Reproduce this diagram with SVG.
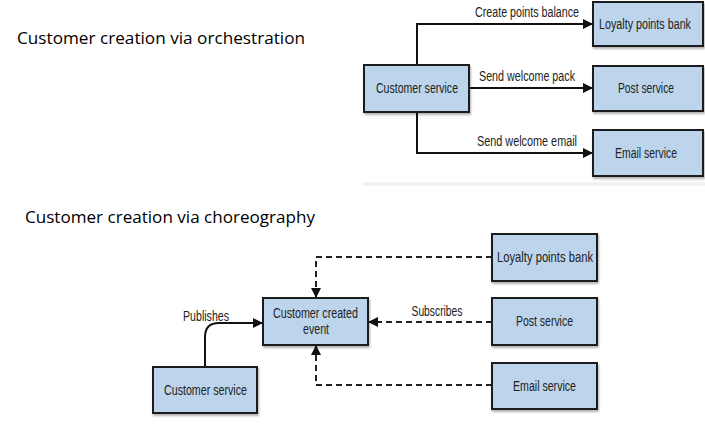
<svg xmlns="http://www.w3.org/2000/svg" width="705" height="431" viewBox="0 0 705 431">
<style>
.box{fill:#bcd5ec;stroke:#1a1a1a;stroke-width:2}
.t{font-family:"Liberation Sans","DejaVu Sans",sans-serif;font-size:14px;fill:#222;text-anchor:middle}
.h{font-family:"Open Sans","Liberation Sans",sans-serif;font-size:17px;fill:#000}
.ln{fill:none;stroke:#111;stroke-width:2}
.ds{fill:none;stroke:#222;stroke-width:2;stroke-dasharray:6,4}
</style>
<defs>
<marker id="ah" markerWidth="10" markerHeight="10" refX="9" refY="5" orient="auto" markerUnits="userSpaceOnUse">
<path d="M0,0 L10,5 L0,10 Z" fill="#111"/>
</marker>
<filter id="sh" x="-10%" y="-10%" width="130%" height="140%">
<feDropShadow dx="1" dy="2" stdDeviation="1.2" flood-color="#000" flood-opacity="0.3"/>
</filter>
</defs>
<rect width="705" height="431" fill="#fff"/>
<text class="h" x="17" y="44" textLength="288" lengthAdjust="spacingAndGlyphs">Customer creation via orchestration</text>
<text class="h" x="25" y="223" textLength="290" lengthAdjust="spacingAndGlyphs">Customer creation via choreography</text>
<line x1="363" y1="184" x2="705" y2="184" stroke="#efefef" stroke-width="3"/>

<g id="connectors">
<polyline class="ln" points="417,65 417,24 592,24" marker-end="url(#ah)"/>
<line class="ln" x1="469" y1="88" x2="592" y2="88" marker-end="url(#ah)"/>
<polyline class="ln" points="417,112 417,153 592,153" marker-end="url(#ah)"/>
<path class="ln" d="M205,367 L205,337 Q205,323 219,323 L262,323" marker-end="url(#ah)"/>
<polyline class="ds" points="492,257 316,257 316,297" marker-end="url(#ah)"/>
<line class="ds" x1="492" y1="322" x2="369" y2="322" marker-end="url(#ah)"/>
<polyline class="ds" points="492,385 316,385 316,346" marker-end="url(#ah)"/>
<text class="t" x="527" y="17" textLength="104" lengthAdjust="spacingAndGlyphs">Create points balance</text>
<text class="t" x="527" y="81" textLength="96" lengthAdjust="spacingAndGlyphs">Send welcome pack</text>
<text class="t" x="527" y="146" textLength="100" lengthAdjust="spacingAndGlyphs">Send welcome email</text>
<text class="t" x="206" y="321" textLength="46" lengthAdjust="spacingAndGlyphs">Publishes</text>
<text class="t" x="437" y="316" textLength="51" lengthAdjust="spacingAndGlyphs">Subscribes</text>
</g>

<g id="orch-customer-service"><rect class="box" filter="url(#sh)" x="364" y="65" width="105" height="47"/><text class="t" x="417" y="93" textLength="82" lengthAdjust="spacingAndGlyphs">Customer service</text></g>
<g id="orch-loyalty"><rect class="box" filter="url(#sh)" x="593" y="2" width="110" height="44"/><text class="t" x="645" y="29" textLength="92" lengthAdjust="spacingAndGlyphs">Loyalty points bank</text></g>
<g id="orch-post"><rect class="box" filter="url(#sh)" x="593" y="66" width="110" height="45"/><text class="t" x="646" y="93" textLength="56" lengthAdjust="spacingAndGlyphs">Post service</text></g>
<g id="orch-email"><rect class="box" filter="url(#sh)" x="593" y="130" width="110" height="46"/><text class="t" x="646" y="158" textLength="62" lengthAdjust="spacingAndGlyphs">Email service</text></g>

<g id="chor-event"><rect class="box" filter="url(#sh)" x="263" y="298" width="105" height="47"/><text class="t" x="315.5" y="318" textLength="85" lengthAdjust="spacingAndGlyphs">Customer created</text><text class="t" x="316" y="334" textLength="26" lengthAdjust="spacingAndGlyphs">event</text></g>
<g id="chor-customer-service"><rect class="box" filter="url(#sh)" x="153" y="367" width="104" height="46"/><text class="t" x="205.5" y="395" textLength="83" lengthAdjust="spacingAndGlyphs">Customer service</text></g>
<g id="chor-loyalty"><rect class="box" filter="url(#sh)" x="492" y="234" width="105" height="47"/><text class="t" x="545" y="262" textLength="96" lengthAdjust="spacingAndGlyphs">Loyalty points bank</text></g>
<g id="chor-post"><rect class="box" filter="url(#sh)" x="492" y="298" width="105" height="47"/><text class="t" x="544.5" y="326" textLength="57" lengthAdjust="spacingAndGlyphs">Post service</text></g>
<g id="chor-email"><rect class="box" filter="url(#sh)" x="492" y="363" width="105" height="46"/><text class="t" x="544.5" y="391" textLength="63" lengthAdjust="spacingAndGlyphs">Email service</text></g>
</svg>
